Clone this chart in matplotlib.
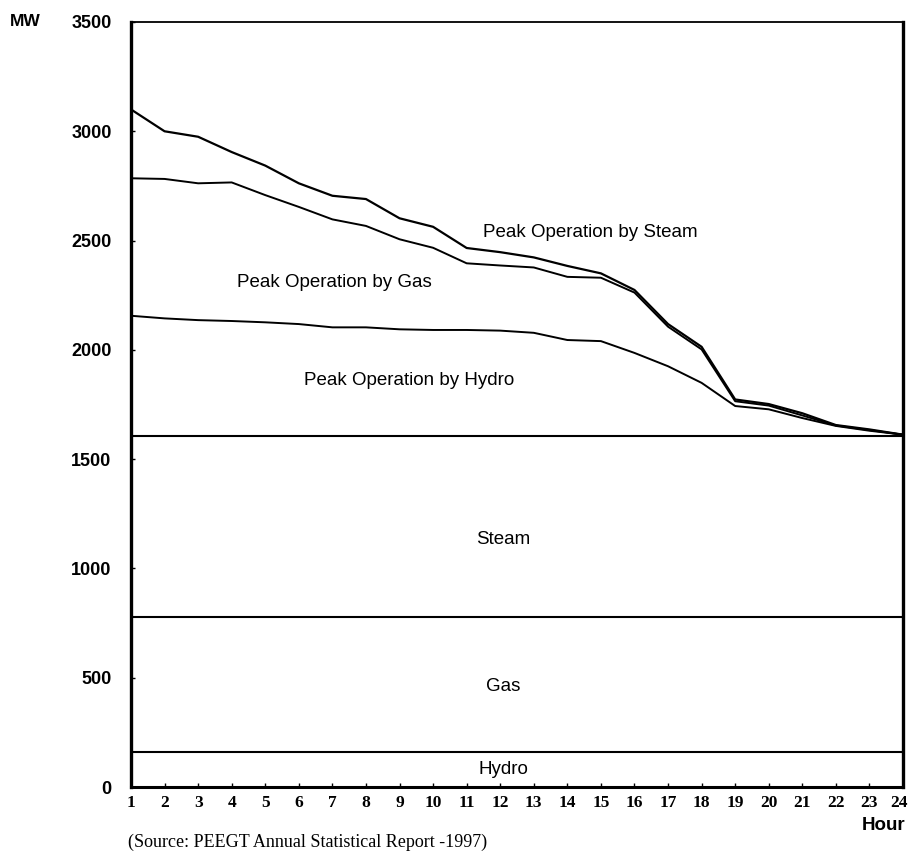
import matplotlib
matplotlib.use("Agg")
import matplotlib.pyplot as plt
from matplotlib.transforms import ScaledTranslation

hours = list(range(1, 25))
steam_peak = [3100, 3000, 2975, 2905, 2843, 2762, 2705, 2690, 2602, 2563, 2466, 2447,
              2423, 2384, 2350, 2274, 2118, 2014, 1773, 1752, 1710, 1656, 1636, 1612]
gas_peak = [2785, 2782, 2762, 2766, 2708, 2654, 2597, 2567, 2506, 2467, 2396, 2386,
            2377, 2334, 2330, 2262, 2106, 2002, 1765, 1745, 1700, 1654, 1633, 1612]
hydro_peak = [2156, 2144, 2136, 2132, 2126, 2118, 2103, 2103, 2094, 2091, 2091, 2088,
              2078, 2045, 2040, 1986, 1925, 1849, 1743, 1728, 1688, 1652, 1630, 1612]
base_total = 1608
gas_top = 780
hydro_top = 160

yticks = [0, 500, 1000, 1500, 2000, 2500, 3000, 3500]

fig = plt.figure(figsize=(9.09, 8.58), dpi=100)
ax = fig.add_axes([131/909, 71/858, 772/909, 765/858])

lc = "black"
ax.plot(hours, steam_peak, color=lc, lw=1.6)
ax.plot(hours, gas_peak, color=lc, lw=1.4)
ax.plot(hours, hydro_peak, color=lc, lw=1.4)
for yv in (base_total, gas_top, hydro_top):
    ax.axhline(yv, color=lc, lw=1.5)

ax.set_xlim(1, 24)
ax.set_ylim(0, 3500)
ax.set_xticks(hours)
ax.set_yticks(yticks)
ax.set_xticklabels([str(h) for h in hours], family="Liberation Serif",
                   fontweight="bold", fontsize=12.5)
ax.set_yticklabels([str(v) for v in yticks], family="Liberation Sans",
                   fontweight="bold", fontsize=13)
ax.tick_params(axis="x", direction="in", length=3, width=1, pad=6)
ax.tick_params(axis="y", direction="in", length=3, width=1, pad=14)

last = ax.get_xticklabels()[-1]
last.set_transform(last.get_transform() + ScaledTranslation(-4/100, 0, fig.dpi_scale_trans))

for side, w in (("left", 2.4), ("right", 2.4), ("bottom", 2.2), ("top", 1.3)):
    ax.spines[side].set_linewidth(w)
    ax.spines[side].set_color(lc)

tf = dict(family="Liberation Sans", fontsize=13.5, ha="center", va="center")
ax.text(14.67, 2535, "Peak Operation by Steam", **tf)
ax.text(7.06, 2306, "Peak Operation by Gas", **tf)
ax.text(9.3, 1862, "Peak Operation by Hydro", **tf)
ax.text(12.1, 1134, "Steam", **tf)
ax.text(12.1, 462, "Gas", **tf)
ax.text(12.1, 78, "Hydro", **tf)

fig.text(10/909, 1 - 21/858, "MW", family="Liberation Sans", fontweight="bold",
         fontsize=12.5, ha="left", va="center")
fig.text(884/909, 1 - 826/858, "Hour", family="Liberation Sans", fontweight="bold",
         fontsize=13.5, ha="center", va="center")
fig.text(128/909, 1 - 842/858, "(Source: PEEGT Annual Statistical Report -1997)",
         family="Liberation Serif", fontsize=13, ha="left", va="center")

fig.savefig("out.png", dpi=100, facecolor="white")
